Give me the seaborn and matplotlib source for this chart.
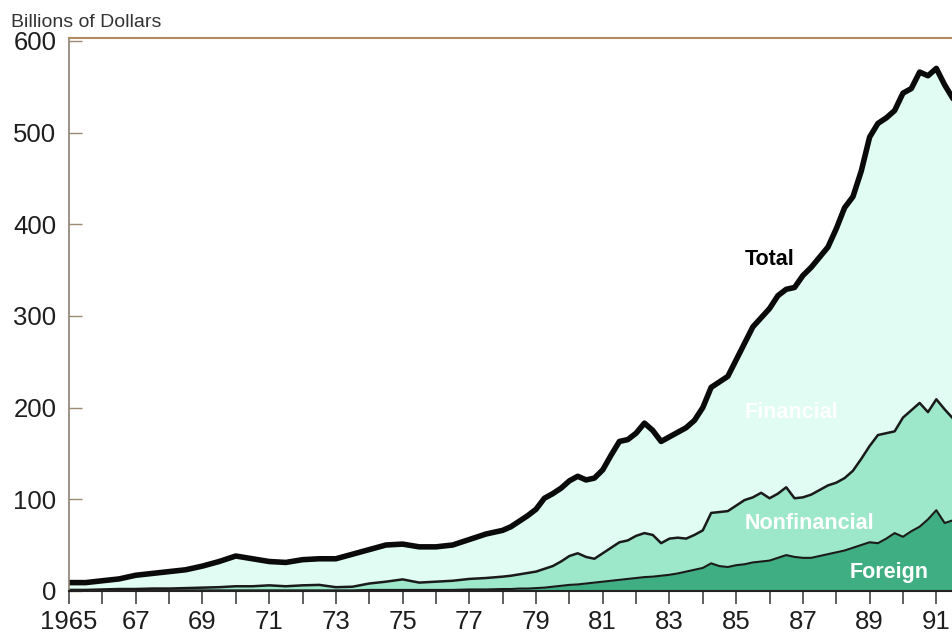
import numpy as np
import pandas as pd
import matplotlib.pyplot as plt
import seaborn as sns

# quarter points (semi-annual up to 1977, quarterly after)
years = [1965.0, 1965.5, 1966.0, 1966.5, 1967.0, 1967.5, 1968.0, 1968.5, 1969.0, 1969.5,
         1970.0, 1970.5, 1971.0, 1971.5, 1972.0, 1972.5, 1973.0, 1973.5, 1974.0, 1974.5,
         1975.0, 1975.5, 1976.0, 1976.5, 1977.0, 1977.5,
         1978.0, 1978.25, 1978.5, 1978.75, 1979.0, 1979.25, 1979.5, 1979.75,
         1980.0, 1980.25, 1980.5, 1980.75, 1981.0, 1981.25, 1981.5, 1981.75,
         1982.0, 1982.25, 1982.5, 1982.75, 1983.0, 1983.25, 1983.5, 1983.75,
         1984.0, 1984.25, 1984.5, 1984.75, 1985.0, 1985.25, 1985.5, 1985.75,
         1986.0, 1986.25, 1986.5, 1986.75, 1987.0, 1987.25, 1987.5, 1987.75,
         1988.0, 1988.25, 1988.5, 1988.75, 1989.0, 1989.25, 1989.5, 1989.75,
         1990.0, 1990.25, 1990.5, 1990.75, 1991.0, 1991.25, 1991.5]

# top of the Total area
total = [9, 9, 11, 13, 17, 19, 21, 23, 27, 32,
         38, 35, 32, 31, 34, 35, 35, 40, 45, 50,
         51, 48, 48, 50, 56, 62,
         66, 70, 76, 82, 89, 101, 106, 112,
         120, 125, 121, 123, 132, 148, 163, 165,
         172, 183, 175, 163, 168, 173, 178, 186,
         200, 222, 228, 234, 252, 270, 288, 298,
         308, 322, 329, 331, 344, 353, 364, 375,
         395, 418, 430, 458, 495, 510, 516, 524,
         543, 548, 566, 562, 570, 552, 537]

# top of the Nonfinancial band (Foreign + Nonfinancial)
nonfin_top = [1, 1, 1.5, 2, 2, 2.5, 2.5, 3, 3.5, 4,
              5, 5, 6, 5, 6, 6.5, 4, 4.5, 8, 10,
              12.5, 9, 10, 11, 13, 14,
              15.5, 16.5, 18, 19.5, 21, 24, 27, 32,
              38, 41, 37, 35, 41, 47, 53, 55,
              60, 63, 61, 52, 57, 58, 57, 61,
              66, 85, 86, 87, 93, 99, 102, 107,
              101, 106, 113, 101, 102, 105, 110, 115,
              118, 123, 131, 144, 158, 170, 172, 174,
              189, 197, 205, 195, 209, 198, 188]

# Foreign band
foreign = [0.5, 0.5, 0.5, 0.5, 0.5, 0.5, 0.5, 0.5, 0.5, 0.5,
           0.5, 0.5, 0.5, 0.5, 0.5, 0.5, 0.5, 0.5, 1, 1,
           1, 1, 1, 1, 1.5, 1.5,
           2, 2, 2.5, 2.5, 3, 3.5, 4.5, 5.5,
           6.5, 7, 8, 9, 10, 11, 12, 13,
           14, 15, 15.5, 16.5, 17.5, 19, 21, 23,
           25, 30, 27, 26, 28, 29, 31, 32,
           33, 36, 39, 37, 36, 36, 38, 40,
           42, 44, 47, 50, 53, 52, 57, 63,
           59, 65, 70, 78, 88, 74, 77]

tick_years = list(range(1965, 1992))
tick_labels = ["1965" if y == 1965 else (str(y)[2:] if y % 2 == 1 else "") for y in tick_years]

df = pd.DataFrame({"year": years, "total": total, "nonfin_top": nonfin_top, "foreign": foreign})

sns.set_style("white")
plt.rcParams["font.family"] = ["Liberation Sans", "DejaVu Sans"]

fig = plt.figure(figsize=(9.53, 6.36), dpi=100)
ax = fig.add_axes([0.0724, 0.071, 0.9276, 0.869])

ax.fill_between(df["year"], df["nonfin_top"], df["total"], color="#e0fcf3", lw=0)
ax.fill_between(df["year"], df["foreign"], df["nonfin_top"], color="#9de8cb", lw=0)
ax.fill_between(df["year"], 0, df["foreign"], color="#3fae82", lw=0)

sns.lineplot(data=df, x="year", y="foreign", color="#1a1a1a", lw=1.5, ax=ax)
sns.lineplot(data=df, x="year", y="nonfin_top", color="#1a1a1a", lw=1.8, ax=ax)
sns.lineplot(data=df, x="year", y="total", color="#0a0a0a", lw=4, ax=ax)

ax.set_xlim(1965, 1991.5)
ax.set_ylim(0, 603)
ax.set_xlabel("")
ax.set_ylabel("")

ax.set_xticks(tick_years)
ax.set_xticklabels(tick_labels)
ax.set_yticks([0, 100, 200, 300, 400, 500, 600])
ax.tick_params(axis="y", direction="in", length=9, width=1, color="#9a8a70",
               labelsize=18.5, labelcolor="#1e1e1e", pad=9, left=True)
ax.tick_params(axis="x", direction="out", length=9, width=1.2, color="#444444",
               labelsize=18.5, labelcolor="#1e1e1e", pad=5, bottom=True)

ax.spines["right"].set_visible(False)
ax.spines["top"].set_color("#b08a60")
ax.spines["top"].set_linewidth(1.5)
ax.spines["left"].set_color("#8a8070")
ax.spines["left"].set_linewidth(1.2)
ax.spines["bottom"].set_color("#222222")
ax.spines["bottom"].set_linewidth(1.5)

ax.text(1986.0, 361, "Total", fontsize=15.5, fontweight="bold", color="black", ha="center", va="center")
ax.text(1986.65, 195, "Financial", fontsize=15.5, fontweight="bold", color="white", ha="center", va="center")
ax.text(1987.2, 73, "Nonfinancial", fontsize=15.5, fontweight="bold", color="white", ha="center", va="center")
ax.text(1989.6, 20, "Foreign", fontsize=15.5, fontweight="bold", color="white", ha="center", va="center")

fig.text(0.012, 0.965, "Billions of Dollars", fontsize=14, color="#333333", ha="left", va="center")

fig.savefig("out.png", dpi=100)
